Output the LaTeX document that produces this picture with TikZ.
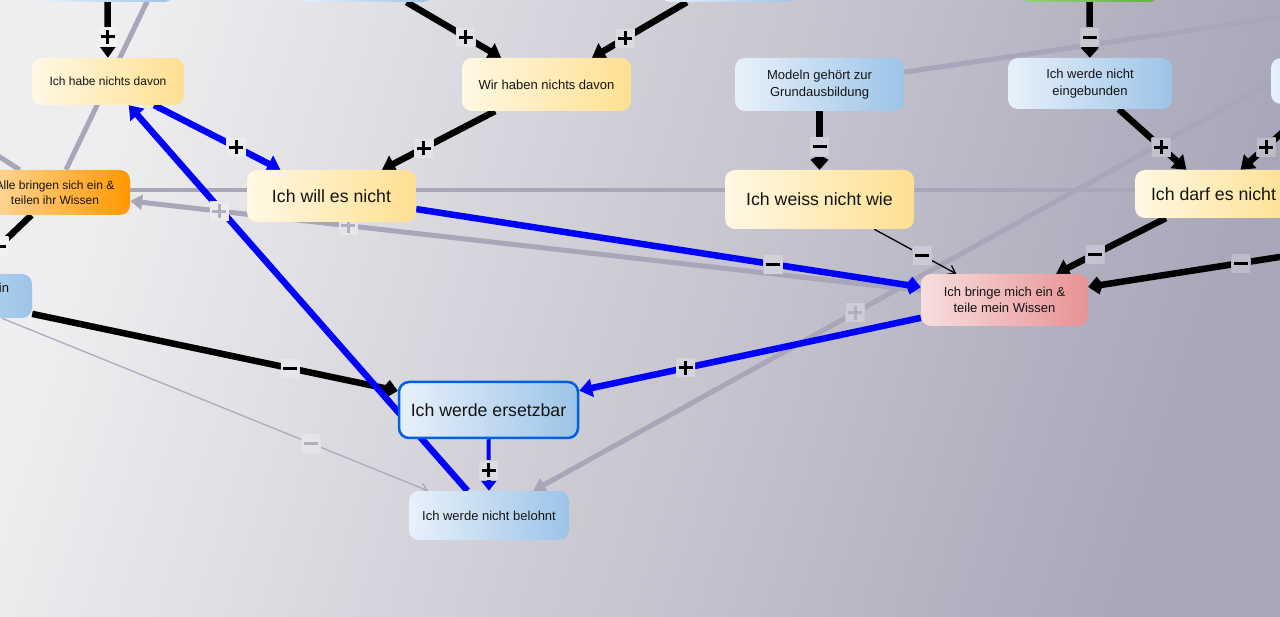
\documentclass[tikz,border=0pt]{standalone}
\usepackage{fontspec}
\setmainfont{Liberation Sans}
\usetikzlibrary{arrows.meta,calc}
\pgfdeclarelayer{bglayer}
\pgfdeclarelayer{edgelayer}
\pgfdeclarelayer{lablayer}
\pgfsetlayers{bglayer,edgelayer,lablayer,main}

\definecolor{bgL}{RGB}{238,238,240}
\definecolor{bgR}{RGB}{168,166,184}
\definecolor{yL}{RGB}{255,248,228}
\definecolor{yR}{RGB}{255,224,145}
\definecolor{bL}{RGB}{232,241,250}
\definecolor{bR}{RGB}{156,196,232}
\definecolor{pL}{RGB}{248,222,222}
\definecolor{pR}{RGB}{232,146,148}
\definecolor{oL}{RGB}{255,220,165}
\definecolor{oR}{RGB}{255,152,0}
\definecolor{gL}{RGB}{150,210,120}
\definecolor{gR}{RGB}{100,175,70}
\definecolor{edgegray}{RGB}{168,166,184}
\definecolor{labgray}{RGB}{176,175,192}
\definecolor{thingray}{RGB}{172,170,190}
\definecolor{pureblue}{RGB}{0,0,255}
\definecolor{frameblue}{RGB}{0,96,228}
\definecolor{txt}{RGB}{20,20,20}

\newcommand{\PlusSign}{\makebox[14pt]{\rlap{\rule[5.5pt]{14pt}{3pt}}\hspace{5.5pt}\rule{3pt}{14pt}\hspace{5.5pt}}}
\newcommand{\MinusSign}{\rule[5.5pt]{14pt}{3pt}\rule{0pt}{14pt}}
\newcommand{\Edge}[3]{\begin{pgfonlayer}{edgelayer}\draw[#1] (#2) -- (#3);\end{pgfonlayer}}
\newcommand{\Lab}[6]{\begin{pgfonlayer}{lablayer}\node[#5] (#6) at ($(#1)!#3!(#2)$) {#4};\end{pgfonlayer}}

\tikzset{
 bgshade/.style={left color=bgL, right color=bgR, shading angle=73},
 box/.style={rounded corners=10pt, inner sep=0pt, align=center, text=txt, font=\fontsize{13}{16.5}\selectfont},
 fsmall/.style={font=\fontsize{12}{15}\selectfont},
 fbig/.style={font=\fontsize{17.7}{21}\selectfont},
 yel/.style={box, left color=yL, right color=yR},
 blu/.style={box, left color=bL, right color=bR},
 pnk/.style={box, left color=pL, right color=pR},
 org/.style={box, left color=oL, right color=oR},
 grn/.style={box, left color=gL, right color=gR},
 lab/.style={minimum size=19pt, inner sep=0pt, text=black,
   path picture={\shade[bgshade] (bgA) rectangle (bgB);
     \fill[white, opacity=0.25] (path picture bounding box.south west) rectangle (path picture bounding box.north east);}},
 glab/.style={lab, text=labgray},
 blk/.style={line width=6.5pt, draw=black},
 bline/.style={line width=6.5pt, draw=pureblue},
 gline/.style={line width=5pt, draw=edgegray},
 thinline/.style={line width=1.3pt},
 tri/.style={-{Triangle[length=13pt,width=18pt]}},
 smalltri/.style={-{Triangle[length=10pt,width=15pt]}},
 kite/.style={-{Kite[length=15pt,width=18pt,inset=5pt]}},
 gtri/.style={-{Triangle[length=12pt,width=15pt]}},
 barb/.style={-{Straight Barb[length=7pt,width=10pt]}},
}

\begin{document}
\begin{tikzpicture}[x=1pt,y=-1pt]
\coordinate (bgA) at (0,0);
\coordinate (bgB) at (1280,617);
\useasboundingbox (bgA) rectangle (bgB);
\begin{pgfonlayer}{bglayer}
\shade[bgshade] (bgA) rectangle (bgB);
\end{pgfonlayer}

% off-canvas ends
\coordinate (gs1) at (196,-100);
\coordinate (gs2) at (-50,125);
\coordinate (hl) at (-100,190);
\coordinate (hr) at (1500,190);
\coordinate (gs3) at (1500,-15);
\coordinate (gs4) at (1400,10.8);
\coordinate (rsrc) at (1420,235);

% nodes
\node[blu, minimum width=133pt, minimum height=48pt] (t1) at (107.5,-22) {};
\node[blu, minimum width=135pt, minimum height=48pt] (t2) at (365.5,-22) {};
\node[blu, minimum width=136pt, minimum height=48pt] (t3) at (728,-22) {};
\node[grn, minimum width=139pt, minimum height=48pt] (t4) at (1089.5,-22) {};
\node[yel, fsmall, minimum width=152pt, minimum height=47pt] (habe) at (108,81.5) {Ich habe nichts davon};
\node[yel, minimum width=169pt, minimum height=53pt] (wir) at (546.5,84.5) {Wir haben nichts davon};
\node[blu, minimum width=169pt, minimum height=53pt] (modeln) at (819.5,84.5) {Modeln gehört zur\\Grundausbildung};
\node[blu, minimum width=164pt, minimum height=51pt] (eing) at (1090,83.5) {Ich werde nicht\\eingebunden};
\node[blu, minimum width=138pt, minimum height=46pt] (rnode) at (1340,81) {};
\node[yel, fbig, minimum width=169pt, minimum height=52pt] (will) at (331.5,196) {Ich will es nicht};
\node[org, fsmall, minimum width=150pt, minimum height=45pt] (alle) at (55,192.5) {Alle bringen sich ein \&\\teilen ihr Wissen};
\node[yel, fbig, minimum width=189pt, minimum height=59pt] (weiss) at (819.5,199.5) {Ich weiss nicht wie};
\node[yel, fbig, minimum width=157pt, minimum height=48pt] (darf) at (1213.5,194) {Ich darf es nicht};
\node[pnk, minimum width=167pt, minimum height=52pt] (bringe) at (1004.5,300) {Ich bringe mich ein \&\\teile mein Wissen};
\node[blu, minimum width=170pt, minimum height=44pt, text width=124pt, align=right] (lnode) at (-53,296) {in\\\mbox{}};
\node[blu, fbig, draw=frameblue, line width=2.5pt, minimum width=179pt, minimum height=56pt] (ersetz) at (488.5,410) {Ich werde ersetzbar};
\node[blu, minimum width=160pt, minimum height=49pt] (belohnt) at (489,515.5) {Ich werde nicht belohnt};

% gray edges
\Edge{gline}{gs1}{alle}
\Edge{gline}{gs2}{alle}
\Edge{gline, line width=4pt}{hl}{hr}
\Edge{gline, gtri}{bringe}{alle}
\Edge{gline}{modeln}{gs3}
\Edge{gline, gtri}{gs4}{belohnt}
\Edge{thinline, draw=thingray, barb}{lnode}{belohnt}
% black and blue edges
\Edge{blk, tri}{t1}{habe}
\Edge{blk, tri}{t2}{wir}
\Edge{blk, tri}{t3}{wir}
\Edge{blk, kite}{t4}{eing}
\Edge{bline, tri}{habe}{will}
\Edge{blk, tri}{wir}{will}
\Edge{blk, kite}{modeln}{weiss}
\Edge{blk, tri}{eing}{darf}
\Edge{blk, tri}{rnode}{darf}
\Edge{bline, kite}{will}{bringe}
\Edge{thinline, draw=black, barb}{weiss}{bringe}
\Edge{blk, tri}{darf}{bringe}
\Edge{blk, kite}{rsrc}{bringe}
\Edge{bline, tri}{bringe}{ersetz}
\Edge{blk, kite}{lnode}{ersetz}
\Edge{bline, line width=4pt, smalltri}{ersetz}{belohnt}
\Edge{bline, tri}{belohnt}{habe}
\Edge{blk}{alle}{lnode}

% labels
\Lab{t1}{habe}{0.57}{\PlusSign}{lab}{l1}
\Lab{t2}{wir}{0.555}{\PlusSign}{lab}{l2}
\Lab{t3}{wir}{0.567}{\PlusSign}{lab}{l3}
\Lab{t4}{eing}{0.56}{\MinusSign}{lab}{l4}
\Lab{habe}{will}{0.573}{\PlusSign}{lab}{l5}
\Lab{wir}{will}{0.57}{\PlusSign}{lab}{l6}
\Lab{modeln}{weiss}{0.54}{\MinusSign}{lab}{l7}
\Lab{eing}{darf}{0.575}{\PlusSign}{lab}{l8}
\Lab{rnode}{darf}{0.585}{\PlusSign}{lab}{l9}
\Lab{will}{bringe}{0.656}{\MinusSign}{lab}{l10}
\Lab{weiss}{bringe}{0.554}{\MinusSign}{lab}{l11}
\Lab{darf}{bringe}{0.567}{\MinusSign}{lab}{l12}
\Lab{rsrc}{bringe}{0.431}{\MinusSign}{lab}{l13}
\Lab{bringe}{ersetz}{0.618}{\PlusSign}{lab}{l14}
\Lab{lnode}{ersetz}{0.634}{\MinusSign}{lab}{l15}
\Lab{lnode}{belohnt}{0.672}{\MinusSign}{glab}{l16}
\Lab{ersetz}{belohnt}{0.569}{\PlusSign}{lab}{l17}
\Lab{alle}{lnode}{0.52}{\PlusSign}{lab}{l18}
\Lab{bringe}{alle}{0.827}{\PlusSign}{glab}{l19}
\Lab{bringe}{alle}{0.691}{\PlusSign}{glab}{l20}
\Lab{gs4}{belohnt}{0.598}{\PlusSign}{glab}{l21}
\end{tikzpicture}
\end{document}
